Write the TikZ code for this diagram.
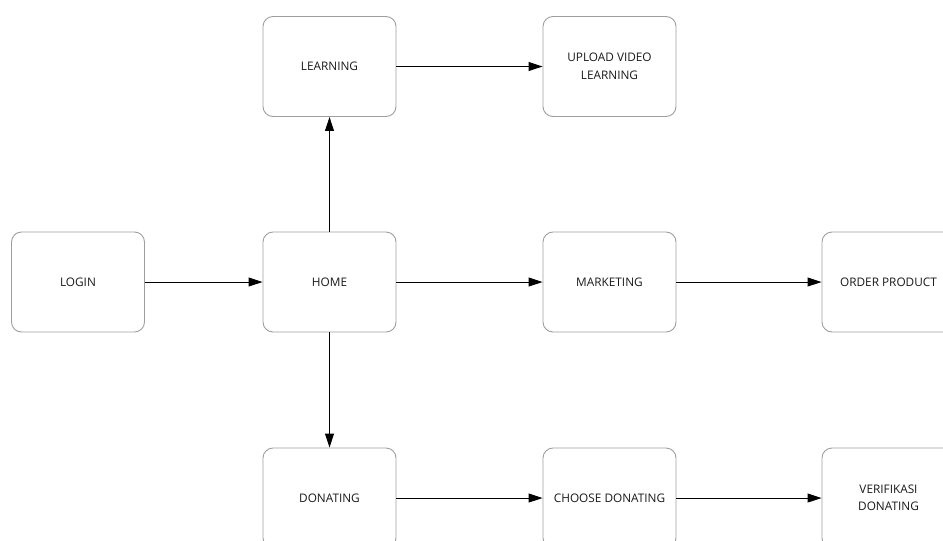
\documentclass[tikz,border=0pt]{standalone}
\usepackage{fontspec}
\setmainfont{Open Sans}
\usetikzlibrary{arrows.meta}
\begin{document}
\begin{tikzpicture}[x=1pt,y=-1pt,
  box/.style={draw=black!38, line width=0.9pt, rounded corners=10pt, minimum width=133pt, minimum height=100pt, inner sep=0pt, align=center, font=\fontsize{11.8}{17.5}\selectfont, text=black!90},
  flow/.style={draw=black, line width=1pt, -{Triangle[length=14pt,width=9pt]}}]
\useasboundingbox (0,0) rectangle (943,541);
\clip (0,0) rectangle (943,541);
\node[box] (login) at (78,282) {LOGIN};
\node[box] (home) at (329.5,282) {HOME};
\node[box] (learning) at (329.5,66.5) {LEARNING};
\node[box] (upload) at (609.5,66.5) {UPLOAD VIDEO\\LEARNING};
\node[box] (marketing) at (609.5,282) {MARKETING};
\node[box] (order) at (888.5,282) {ORDER PRODUCT};
\node[box] (donating) at (329.5,498) {DONATING};
\node[box] (choose) at (609.5,498) {CHOOSE DONATING};
\node[box] (verif) at (888.5,498) {VERIFIKASI\\DONATING};
\draw[flow] (login) -- (home);
\draw[flow] (home) -- (learning);
\draw[flow] (learning) -- (upload);
\draw[flow] (home) -- (marketing);
\draw[flow] (marketing) -- (order);
\draw[flow] (home) -- (donating);
\draw[flow] (donating) -- (choose);
\draw[flow] (choose) -- (verif);
\end{tikzpicture}
\end{document}
